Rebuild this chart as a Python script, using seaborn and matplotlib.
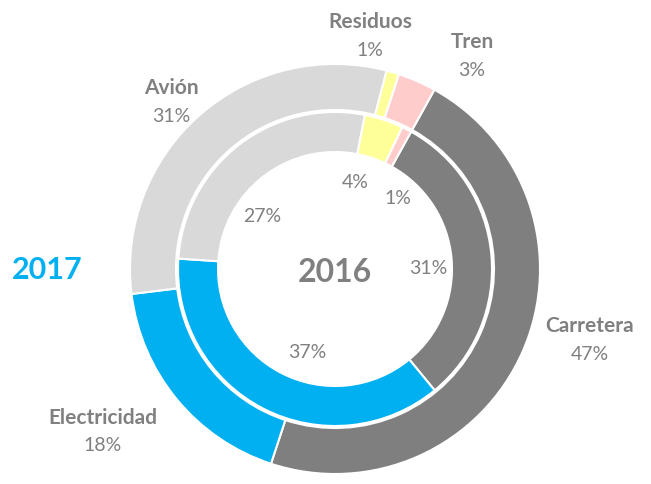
import matplotlib
matplotlib.use("Agg")
import matplotlib.pyplot as plt
import seaborn as sns

# Datos: emisiones por sector (2017 anillo exterior, 2016 anillo interior)
categorias = ["Carretera", "Electricidad", "Avión", "Residuos", "Tren"]
valores_2017 = [47, 18, 31, 1, 3]
valores_2016 = [31, 37, 27, 4, 1]
colores = ["#7f7f7f", "#00b0f0", "#d9d9d9", "#ffff99", "#ffcccc"]

# Posición de las etiquetas (pixeles de la figura)
pos_ext = [(590, 340), (103, 432), (171, 102), (370, 36), (472, 56)]
pos_int = [(428, 268), (307, 352), (262, 217), (355, 183), (398, 198)]

sns.set_style("white")
plt.rcParams["font.family"] = ["Lato", "DejaVu Sans"]
gris = "#808080"

fig = plt.figure(figsize=(6.51, 4.85), dpi=100)
ax = fig.add_axes([0, 0, 1, 1])
H = 485
centro = (335, H - 270)

# Anillo exterior (2017)
ax.pie(valores_2017, colors=colores, radius=205, center=centro,
       startangle=61, counterclock=False,
       wedgeprops=dict(width=46, edgecolor="white", linewidth=1.5))
# Anillo interior (2016)
ax.pie(valores_2016, colors=colores, radius=157, center=centro,
       startangle=61, counterclock=False,
       wedgeprops=dict(width=40, edgecolor="white", linewidth=1.5))

for cat, val, (x, y) in zip(categorias, valores_2017, pos_ext):
    ax.text(x, H - y + 14, cat, ha="center", va="center", fontsize=15,
            fontweight="bold", color=gris)
    ax.text(x, H - y - 14, f"{val}%", ha="center", va="center",
            fontsize=14, color=gris)

for val, (x, y) in zip(valores_2016, pos_int):
    ax.text(x, H - y, f"{val}%", ha="center", va="center",
            fontsize=14, color=gris)

ax.text(335, H - 272, "2016", ha="center", va="center", fontsize=23,
        fontweight="bold", color=gris)
ax.text(47, H - 270, "2017", ha="center", va="center", fontsize=22,
        fontweight="bold", color="#00b0f0")

ax.set_xlim(0, 651)
ax.set_ylim(0, H)
ax.set_aspect("equal")
ax.axis("off")

plt.savefig("out.png", dpi=100)
